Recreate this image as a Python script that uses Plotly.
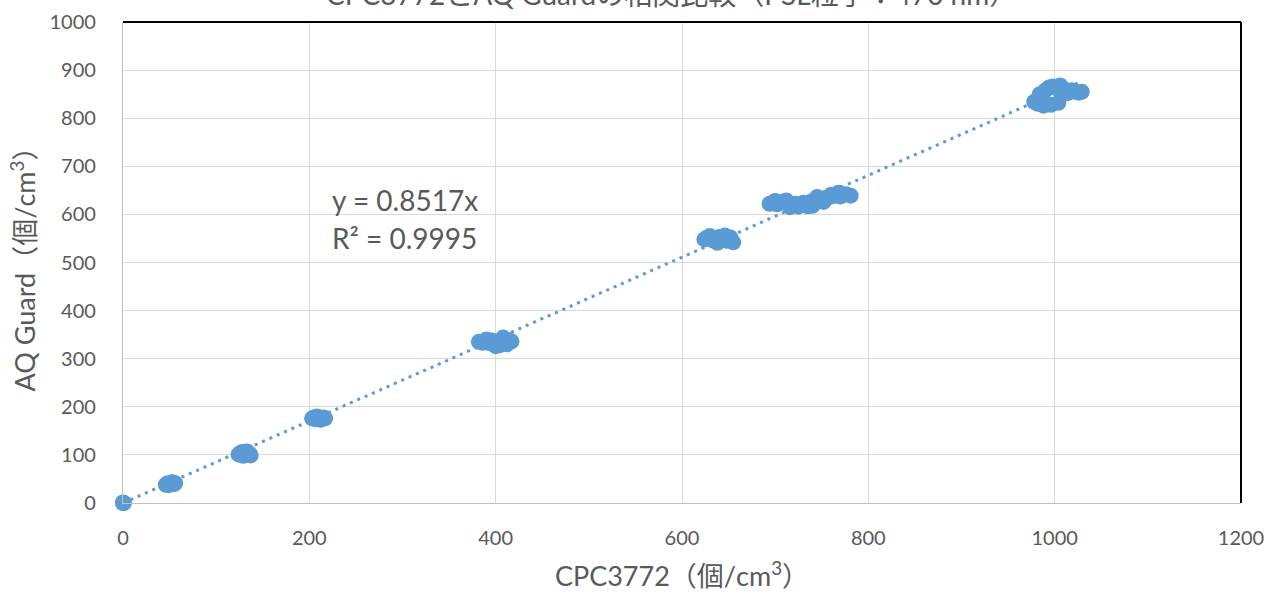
import plotly.graph_objects as go

# ---- data ----
cpc_0 = [0, 1, 0]
aqg_0 = [0, 0, 1]

cpc_50 = [46, 48, 50, 52, 54, 56, 49, 53, 51]
aqg_50 = [38, 41, 40, 42, 39, 41, 37, 43, 40]

cpc_130 = [124, 126, 128, 130, 132, 134, 136, 137, 129, 133]
aqg_130 = [101, 104, 106, 103, 100, 105, 102, 99, 98, 107]

cpc_210 = [203, 205, 207, 209, 211, 213, 215, 217, 208, 212]
aqg_210 = [176, 178, 174, 179, 177, 175, 178, 176, 180, 173]

cpc_400 = [382, 386, 390, 394, 398, 402, 406, 410, 414, 417, 404, 396, 408,
           390, 400, 412]
aqg_400 = [335, 333, 336, 332, 330, 334, 338, 341, 339, 336, 328, 338, 344,
           340, 326, 330]

cpc_635 = [624, 627, 630, 633, 636, 640, 644, 648, 652, 655, 638, 646]
aqg_635 = [548, 552, 555, 546, 550, 553, 549, 545, 552, 542, 541, 556]

cpc_730 = [694, 698, 702, 706, 710, 714, 718, 722, 726, 730, 734, 738, 742,
           746, 750, 754, 758, 762, 766, 770, 776, 781, 716, 740,
           700, 712, 725, 735, 752, 760, 768, 745]
aqg_730 = [622, 624, 621, 625, 627, 623, 619, 622, 620, 624, 622, 626, 630,
           628, 632, 634, 636, 638, 641, 637, 642, 639, 615, 618,
           628, 629, 616, 617, 626, 641, 645, 636]

cpc_1000 = [978, 982, 986, 990, 994, 998, 1002, 1006, 1010, 1014, 1018,
            1022, 1026, 1029, 988, 996, 1004, 984]
aqg_1000 = [834, 830, 840, 858, 864, 866, 862, 868, 860, 852, 858,
            855, 853, 855, 826, 828, 832, 850]

slope = 0.8517
r2 = 0.9995

x_ticks = [0, 200, 400, 600, 800, 1000, 1200]
y_ticks = [0, 100, 200, 300, 400, 500, 600, 700, 800, 900, 1000]

title_text = "CPC3772とAQ Guardの相関比較（PSL粒子：470 nm）"
x_title = "CPC3772（個/cm<sup>3</sup>）"
y_title = "AQ Guard（個/cm<sup>3</sup>）"

# ---- build ----
xs = cpc_0 + cpc_50 + cpc_130 + cpc_210 + cpc_400 + cpc_635 + cpc_730 + cpc_1000
ys = aqg_0 + aqg_50 + aqg_130 + aqg_210 + aqg_400 + aqg_635 + aqg_730 + aqg_1000

blue = "#5B9BD5"
txt = "#595959"
font_fam = "Lato, 'Noto Sans CJK JP', sans-serif"

fig = go.Figure()
fig.add_trace(go.Scatter(
    x=xs, y=ys, mode="markers",
    marker=dict(color=blue, size=16, line=dict(width=0)),
    showlegend=False, cliponaxis=False,
))
x_max = max(xs)
fig.add_trace(go.Scatter(
    x=[0, x_max], y=[0, slope * x_max], mode="lines",
    line=dict(color=blue, width=3, dash="3px,5px"),
    showlegend=False,
))

fig.update_layout(
    width=1268, height=592,
    margin=dict(l=123, r=27, t=22, b=89, autoexpand=False),
    paper_bgcolor="white", plot_bgcolor="white",
    font=dict(family=font_fam, color=txt),
)
fig.update_xaxes(
    range=[0, 1200], tickvals=x_ticks, ticktext=[str(v) for v in x_ticks],
    showgrid=True, gridcolor="#D9D9D9", gridwidth=1.3,
    showline=True, linecolor="#BFBFBF", linewidth=1.3, zeroline=False,
    ticks="", ticklabelstandoff=17, automargin=False,
    tickfont=dict(size=20, color=txt),
    title=dict(text=x_title, font=dict(size=27, color=txt), standoff=20),
)
fig.update_yaxes(
    range=[0, 1000], tickvals=y_ticks, ticktext=[str(v) for v in y_ticks],
    showgrid=True, gridcolor="#D9D9D9", gridwidth=1.3,
    showline=True, linecolor="#BFBFBF", linewidth=1.3, zeroline=False,
    ticks="", ticklabelstandoff=22, automargin=False,
    tickfont=dict(size=20, color=txt),
    title=dict(text=y_title, font=dict(size=27, color=txt), standoff=5),
)

# black border on top and right of plot area
fig.add_shape(type="line", xref="paper", yref="paper", x0=0, x1=1, y0=1, y1=1,
              line=dict(color="black", width=2))
fig.add_shape(type="line", xref="paper", yref="paper", x0=1, x1=1, y0=0, y1=1,
              line=dict(color="black", width=2))

# chart title (partly above the visible page, as in the reference)
fig.add_annotation(x=0.491, y=1, xref="paper", yref="paper", text=title_text,
                   showarrow=False, xanchor="center", yanchor="bottom", yshift=9,
                   font=dict(size=28, color=txt))

fig.add_annotation(x=222, y=630, xref="x", yref="y", text="y = %.4fx" % slope,
                   showarrow=False, xanchor="left", yanchor="middle",
                   font=dict(size=28, color=txt))
fig.add_annotation(x=222, y=551, xref="x", yref="y", text="R² = %.4f" % r2,
                   showarrow=False, xanchor="left", yanchor="middle",
                   font=dict(size=28, color=txt))

fig.write_html("out.html", config={"displayModeBar": False},
               post_script="document.body.style.margin='0px';")
